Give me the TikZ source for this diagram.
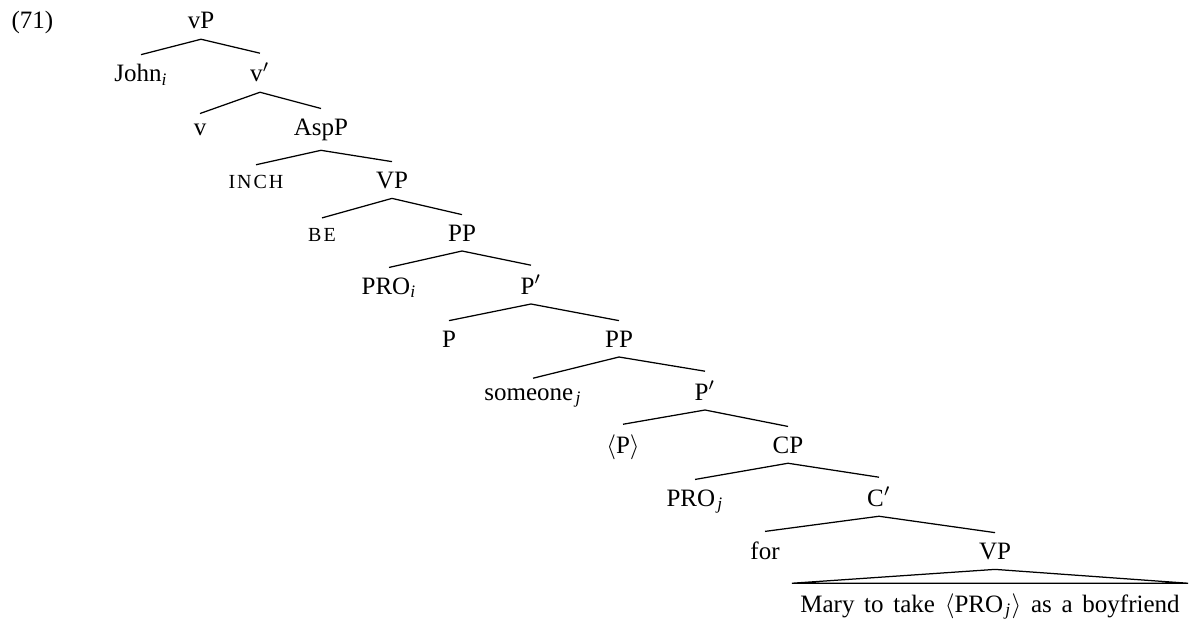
\documentclass[tikz,border=0pt]{standalone}
\usepackage{fontspec}
\setmainfont{Liberation Serif}
\newfontfamily\smallcapsfont[LetterSpace=10]{Liberation Serif}
\newcommand{\smc}[1]{{\smallcapsfont\fontsize{8}{9.6}\selectfont #1}}
\newcommand{\idx}[1]{\textsubscript{\itshape #1}}
\newcommand{\jdx}{\textsubscript{\kern0.9pt\itshape j}}
\tikzset{
  tree label/.style={
    anchor=base, inner sep=3.8pt
  },
  tree edge/.style={
    line width=0.5pt
  },
  tree roof/.style={
    line width=0.5pt, line join=miter
  }
}

\begin{document}
\begin{tikzpicture}[x=0.4pt,y=-0.4pt]
\useasboundingbox (0,0) rectangle (1190,619);
\node [anchor=base west, inner sep=0pt] (exnum) at (11,29) {(71)};
% spine of the tree, one level per 53px
\node [tree label] (vP)      at (201,29)  {vP};
\node [tree label] (john)    at (141,82)  {John\idx{i}};
\node [tree label] (vbar)    at (260,82)  {v$'$};
\node [tree label] (v)       at (200,135) {v};
\node [tree label] (aspP)    at (321,135) {AspP};
\node [tree label] (inch)    at (256,188) {\smc{INCH}};
\node [tree label] (VP)      at (392,188) {VP};
\node [tree label] (be)      at (322,241) {\smc{BE}};
\node [tree label] (PP)      at (462,241) {PP};
\node [tree label] (proi)    at (389,294) {PRO\idx{i}};
\node [tree label] (Pbar)    at (531,294) {P$'$};
\node [tree label] (P)       at (449,347) {P};
\node [tree label] (PPlow)   at (619,347) {PP};
\node [tree label] (someone) at (533,400) {someone\jdx};
\node [tree label] (Pbarlow) at (705,400) {P$'$};
\node [tree label] (Pcopy)   at (623,453) {$\langle$P$\rangle$};
\node [tree label] (CP)      at (788,453) {CP};
\node [tree label] (proj)    at (695,506) {PRO\jdx};
\node [tree label] (Cbar)    at (879,506) {C$'$};
\node [tree label] (for)     at (765,559) {for};
\node [tree label] (VPlow)   at (995,559) {VP};
\node [tree label, inner xsep=3.2pt] (clause) at (990,612)
  {\spaceskip=3.9pt Mary to take $\langle$PRO\jdx$\rangle$ as a boyfriend};
% branches
\draw [tree edge] (vP.south) -- (john.north) (vP.south) -- (vbar.north);
\draw [tree edge] (vbar.south) -- (v.north) (vbar.south) -- (aspP.north);
\draw [tree edge] (aspP.south) -- (inch.north) (aspP.south) -- (VP.north);
\draw [tree edge] (VP.south) -- (be.north) (VP.south) -- (PP.north);
\draw [tree edge] (PP.south) -- (proi.north) (PP.south) -- (Pbar.north);
\draw [tree edge] (Pbar.south) -- (P.north) (Pbar.south) -- (PPlow.north);
\draw [tree edge] (PPlow.south) -- (someone.north) (PPlow.south) -- (Pbarlow.north);
\draw [tree edge] (Pbarlow.south) -- (Pcopy.north) (Pbarlow.south) -- (CP.north);
\draw [tree edge] (CP.south) -- (proj.north) (CP.south) -- (Cbar.north);
\draw [tree edge] (Cbar.south) -- (for.north) (Cbar.south) -- (VPlow.north);
\draw [tree roof] (VPlow.south) -- (clause.north west) -- (clause.north east) -- cycle;
\end{tikzpicture}
\end{document}
